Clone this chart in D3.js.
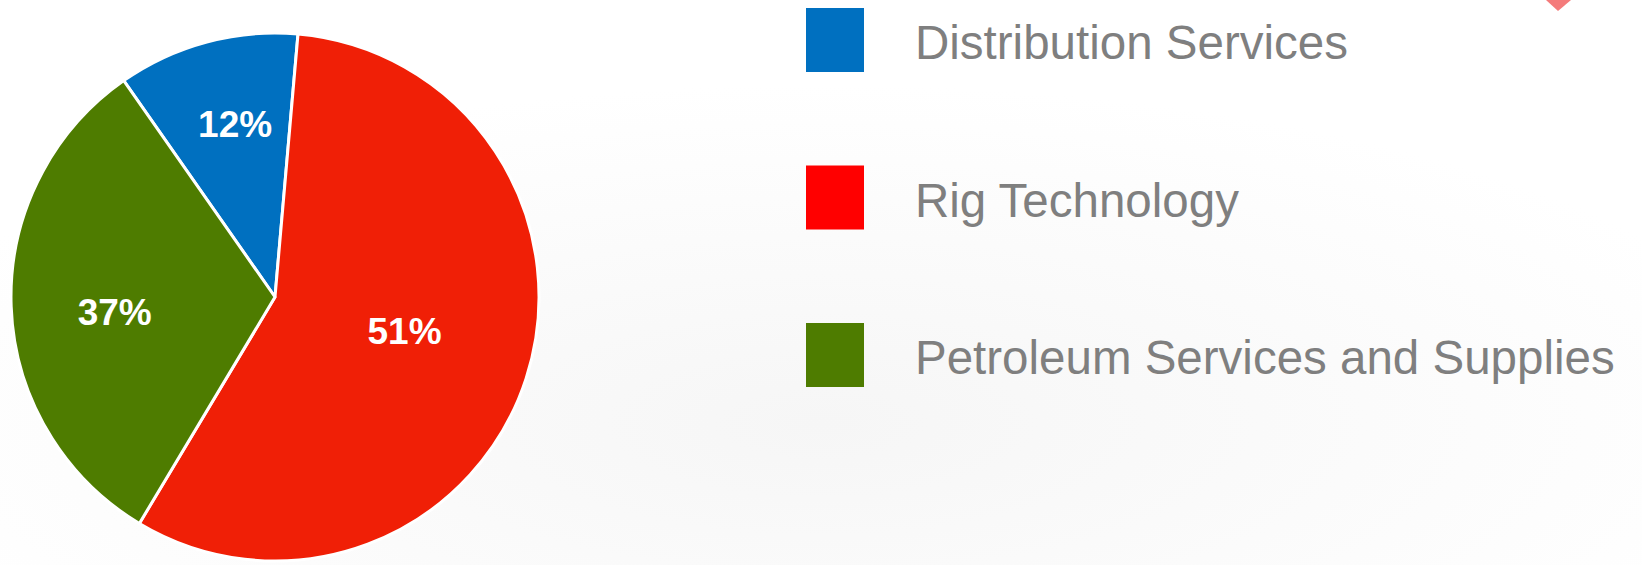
<!DOCTYPE html>
<html>
<head>
<meta charset="utf-8">
<script src="https://cdn.jsdelivr.net/npm/d3@7"></script>
<style>
  html, body { margin: 0; padding: 0; background: #ffffff; }
  svg { display: block; }
</style>
</head>
<body>
<svg id="chart" width="1642" height="565"></svg>
<script>
// ---- data ----
const categories = ["Distribution Services", "Rig Technology", "Petroleum Services and Supplies"];
// slice shares as drawn in the picture (angle-based)
const shares = [11.1, 57.2, 31.7];
// data labels as printed on the slices
const labels = ["12%", "51%", "37%"];

// ---- styles ----
const sliceColors = ["#0070C0", "#F01F06", "#4E7C00"];
const legendColors = ["#0070C0", "#FF0000", "#4E7C00"];
const labelRadiusFrac = [0.673, 0.507, 0.61];
const labelAngleNudgeDeg = [2, -3.4, -3.4];

const W = 1642, H = 565;
const svg = d3.select("#chart");

// subtle background gradient
const defs = svg.append("defs");
const grad = defs.append("radialGradient").attr("id", "bg")
  .attr("cx", "0.5").attr("cy", "0.75").attr("r", "0.6");
grad.append("stop").attr("offset", "0").attr("stop-color", "#f6f6f6");
grad.append("stop").attr("offset", "1").attr("stop-color", "#ffffff");
svg.append("rect").attr("width", W).attr("height", H).attr("fill", "url(#bg)");

// decorative tip at top right
svg.append("path")
  .attr("d", "M1546,0 L1571,0 L1558,11 Z")
  .attr("fill", "#F47B7B");

// ---- pie ----
const cx = 275, cy = 297, R = 264;
const start = -34.96 * Math.PI / 180;
const pie = d3.pie().sort(null).startAngle(start).endAngle(start + 2 * Math.PI);
const arcs = pie(shares);
const arc = d3.arc().innerRadius(0).outerRadius(R);

const g = svg.append("g").attr("transform", `translate(${cx},${cy})`);
g.selectAll("path.slice").data(arcs).enter().append("path")
  .attr("class", "slice")
  .attr("d", arc)
  .attr("fill", (d, i) => sliceColors[i])
  .attr("stroke", "#ffffff")
  .attr("stroke-width", 3)
  .attr("stroke-linejoin", "round");

g.selectAll("text.lbl").data(arcs).enter().append("text")
  .attr("class", "lbl")
  .attr("transform", (d, i) => {
    const rr = R * labelRadiusFrac[i];
    const a = (d.startAngle + d.endAngle) / 2 + labelAngleNudgeDeg[i] * Math.PI / 180;
    const x = rr * Math.sin(a), y = -rr * Math.cos(a);
    return `translate(${x},${y + 13})`;
  })
  .attr("text-anchor", "middle")
  .attr("font-family", "'Liberation Sans', Arial, sans-serif")
  .attr("font-weight", "bold")
  .attr("font-size", 37)
  .attr("fill", "#ffffff")
  .text((d, i) => labels[i]);

// ---- legend ----
const rowY = d3.scalePoint().domain(categories).range([40, 355]);
const legend = svg.append("g");
const items = legend.selectAll("g.item").data(categories).enter().append("g")
  .attr("class", "item")
  .attr("transform", d => `translate(0,${rowY(d)})`);
items.append("rect")
  .attr("x", 806).attr("y", -32)
  .attr("width", 58).attr("height", 64)
  .attr("fill", (d, i) => legendColors[i]);
items.append("text")
  .attr("x", 915).attr("y", 19)
  .attr("font-family", "'Liberation Sans', Arial, sans-serif")
  .attr("font-size", 47.5)
  .attr("fill", "#7F7F7F")
  .text(d => d);
</script>
</body>
</html>
